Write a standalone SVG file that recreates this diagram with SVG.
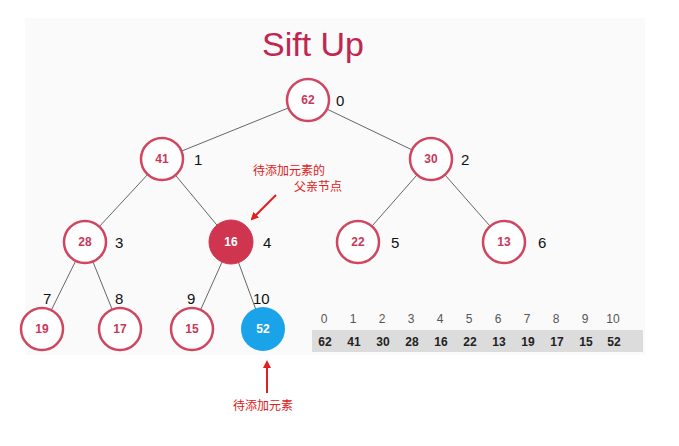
<svg xmlns="http://www.w3.org/2000/svg" width="679" height="446" viewBox="0 0 679 446">
<style>
.n{fill:#fff;stroke:#d0455f;stroke-width:2.5}
.nt{font-family:"Liberation Sans",sans-serif;font-size:12px;font-weight:bold;fill:#c8385a;text-anchor:middle}
.ix{font-family:"Liberation Sans",sans-serif;font-size:15px;fill:#111}
.ai{font-family:"Liberation Sans",sans-serif;font-size:12px;fill:#555;text-anchor:middle}
.av{font-family:"Liberation Sans",sans-serif;font-size:12px;font-weight:bold;fill:#222;text-anchor:middle}
.cn{font-family:"Noto Sans CJK SC",sans-serif;font-size:12px;fill:#e02020}
</style>
<defs><marker id="ar" markerWidth="8" markerHeight="8" refX="6" refY="4" orient="auto" markerUnits="userSpaceOnUse"><path d="M0,0 L8,4 L0,8 z" fill="#e02020"/></marker></defs>
<rect width="679" height="446" fill="#fff"/>
<rect x="25" y="18" width="620" height="337" fill="#fafafa"/>
<text x="313" y="56" font-family="Liberation Sans,sans-serif" font-size="34" fill="#c0264e" text-anchor="middle">Sift Up</text>
<g id="connectors" stroke="#666" stroke-width="1">
<line x1="308" y1="100" x2="162" y2="159"/><line x1="308" y1="100" x2="431" y2="159"/>
<line x1="162" y1="159" x2="85" y2="242"/><line x1="162" y1="159" x2="231" y2="242"/>
<line x1="431" y1="159" x2="358" y2="242"/><line x1="431" y1="159" x2="504" y2="242"/>
<line x1="85" y1="242" x2="42" y2="329"/><line x1="85" y1="242" x2="120" y2="329"/>
<line x1="231" y1="242" x2="192" y2="329"/><line x1="231" y1="242" x2="263" y2="329"/>
</g>
<g id="n62"><circle class="n" cx="308" cy="100" r="21"/><text class="nt" x="308" y="104">62</text><text class="ix" x="336" y="106">0</text></g>
<g id="n41"><circle class="n" cx="162" cy="159" r="21"/><text class="nt" x="162" y="163">41</text><text class="ix" x="194" y="165">1</text></g>
<g id="n30"><circle class="n" cx="431" cy="159" r="21"/><text class="nt" x="431" y="163">30</text><text class="ix" x="461" y="165">2</text></g>
<g id="n28"><circle class="n" cx="85" cy="242" r="21"/><text class="nt" x="85" y="246">28</text><text class="ix" x="115" y="248">3</text></g>
<g id="n16"><circle cx="231" cy="242" r="22" fill="#d03550" stroke="#d03550"/><text class="nt" x="231" y="246" fill="#fff" style="fill:#fff">16</text><text class="ix" x="263" y="248">4</text></g>
<g id="n22"><circle class="n" cx="358" cy="242" r="21"/><text class="nt" x="358" y="246">22</text><text class="ix" x="391" y="248">5</text></g>
<g id="n13"><circle class="n" cx="504" cy="242" r="21"/><text class="nt" x="504" y="246">13</text><text class="ix" x="538" y="248">6</text></g>
<g id="n19"><circle class="n" cx="42" cy="329" r="21"/><text class="nt" x="42" y="333">19</text><text class="ix" x="43" y="304">7</text></g>
<g id="n17"><circle class="n" cx="120" cy="329" r="21"/><text class="nt" x="120" y="333">17</text><text class="ix" x="115" y="304">8</text></g>
<g id="n15"><circle class="n" cx="192" cy="329" r="21"/><text class="nt" x="192" y="333">15</text><text class="ix" x="187" y="304">9</text></g>
<g id="n52"><circle cx="263" cy="329" r="22" fill="#1aa3e8"/><text class="nt" x="263" y="333" style="fill:#fff">52</text><text class="ix" x="253" y="304">10</text></g>
<g id="array">
<rect x="312" y="330" width="331" height="22" fill="#dcdcdc"/>
<g class="ai"><text x="324" y="323">0</text><text x="353" y="323">1</text><text x="382" y="323">2</text><text x="411" y="323">3</text><text x="440" y="323">4</text><text x="469" y="323">5</text><text x="498" y="323">6</text><text x="527" y="323">7</text><text x="556" y="323">8</text><text x="585" y="323">9</text><text x="613" y="323">10</text></g>
<g class="av"><text x="325" y="346">62</text><text x="354" y="346">41</text><text x="383" y="346">30</text><text x="412" y="346">28</text><text x="441" y="346">16</text><text x="470" y="346">22</text><text x="499" y="346">13</text><text x="528" y="346">19</text><text x="557" y="346">17</text><text x="586" y="346">15</text><text x="614" y="346">52</text></g>
</g>
<g id="notes">
<line x1="276" y1="195" x2="252" y2="219" stroke="#e02020" stroke-width="2" marker-end="url(#ar)"/>
<text class="cn" x="253" y="175">待添加元素的</text>
<text class="cn" x="294" y="191">父亲节点</text>
<line x1="267" y1="393" x2="267" y2="362" stroke="#e02020" stroke-width="2" marker-end="url(#ar)"/>
<text class="cn" x="233" y="410">待添加元素</text>
</g>
</svg>
